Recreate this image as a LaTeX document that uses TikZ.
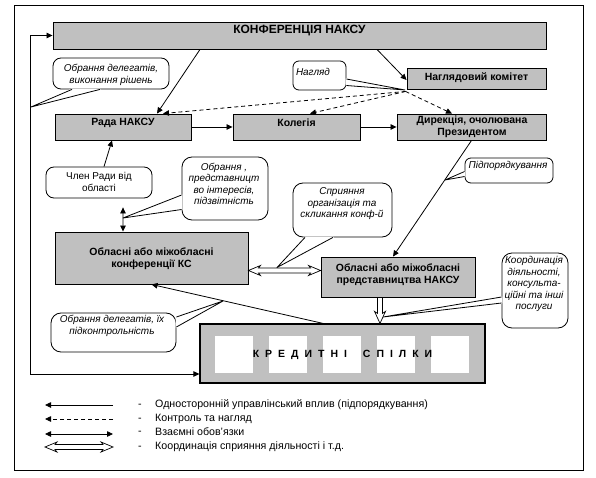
\documentclass[tikz,border=0pt]{standalone}
\usepackage{fontspec}
\setmainfont{Liberation Sans}
\usetikzlibrary{arrows.meta,calc}
\definecolor{boxgray}{RGB}{192,192,192}
\newcommand\calloutptr[3]{%
  \filldraw[white, line width=1.6bp, line join=round] #1 -- #3 -- #2 -- cycle;
  \draw[line width=0.8bp, line join=round] #1 -- #3 -- #2;}
\newcommand\kgap{\hspace{6bp}}
\tikzset{
  box/.style={draw, fill=boxgray, line width=0.9bp, inner sep=0pt},
  callout/.style={draw, fill=white, line width=0.8bp, rounded corners=8bp, inner sep=0pt},
  lbl/.style={font=\fontsize{10.5}{12}\selectfont\bfseries, align=center, inner sep=0pt},
  ctext/.style={font=\fontsize{10}{11.5}\selectfont\itshape, align=center, inner sep=0pt},
  rtext/.style={font=\fontsize{10}{12}\selectfont, align=center, inner sep=0pt},
  legt/.style={font=\fontsize{10.7}{12}\selectfont, inner sep=0pt},
  arr/.style={line width=0.8bp, -{Triangle[length=6bp,width=5.5bp]}},
  arrboth/.style={line width=0.8bp, {Triangle[length=6bp,width=5.5bp]}-{Triangle[length=6bp,width=5.5bp]}},
  darr/.style={arr, dash pattern=on 4bp off 3bp},
  hdbl/.style={fill=white, line width=0.7bp, to path={let \p1=(\tikztostart), \p2=(\tikztotarget) in
    (\x1,\y1) -- (\x1+12bp,\y1+5bp) -- (\x1+10bp,\y1+2.5bp) -- (\x2-10bp,\y1+2.5bp) -- (\x2-12bp,\y1+5bp) -- (\x2,\y1)
    -- (\x2-12bp,\y1-5bp) -- (\x2-10bp,\y1-2.5bp) -- (\x1+10bp,\y1-2.5bp) -- (\x1+12bp,\y1-5bp) -- cycle}},
  hdown/.style={fill=white, line width=0.7bp, to path={let \p1=(\tikztostart), \p2=(\tikztotarget) in
    (\x1-2.5bp,\y1) -- (\x1-2.5bp,\y2+10bp) -- (\x1-5.5bp,\y2+12bp) -- (\x1,\y2) -- (\x1+5.5bp,\y2+12bp)
    -- (\x1+2.5bp,\y2+10bp) -- (\x1+2.5bp,\y1) -- cycle}},
}
\begin{document}
\begin{tikzpicture}[x=1bp,y=-1bp]
\useasboundingbox (0,0) rectangle (596,478);
\draw[line width=1bp] (14,6) rectangle (583,470);

% boxes
\node[box, minimum width=493bp, minimum height=27bp] (konf) at (299.5,35.5) {};
\node[box, minimum width=139bp, minimum height=21bp] (nagl) at (476.5,78.5) {};
\node[box, minimum width=136bp, minimum height=26bp] (rada) at (123,127) {};
\node[box, minimum width=127bp, minimum height=26bp] (koleg) at (296.5,127) {};
\node[box, minimum width=149bp, minimum height=26bp] (dyr) at (471.5,127) {};
\node[box, minimum width=193bp, minimum height=52bp] (ks) at (151.5,258) {};
\node[box, minimum width=154bp, minimum height=40bp] (pred) at (398,277) {};
\node[box, minimum width=285bp, minimum height=59bp, line width=1.2bp] (kred) at (342.5,353.5) {};
\foreach \x in {215,269,323,377,431} \fill[white] (\x,336) rectangle ({\x+38},373);

\node[lbl, font=\fontsize{12}{14}\selectfont\bfseries] (konft) at (299.5,31) {КОНФЕРЕНЦІЯ НАКСУ};
\node[lbl] (naglt) at (476.5,77.5) {Наглядовий комітет};
\node[lbl] (radat) at (123,122.5) {Рада НАКСУ};
\node[lbl] (kolegt) at (296.5,122.5) {Колегія};
\node[lbl] (dyrt) at (472,127) {Дирекція, очолювана\\Президентом};
\node[lbl] (kst) at (151.5,258.5) {Обласні або міжобласні\\конференції КС};
\node[lbl] (predt) at (398,274.5) {Обласні або міжобласні\\представництва НАКСУ};
\node[lbl, font=\fontsize{10.5}{12}\selectfont\bfseries] (kredt) at (342.5,355)
  {К\kgap Р\kgap Е\kgap Д\kgap И\kgap Т\kgap Н\kgap І\hspace{16bp}С\kgap П\kgap І\kgap Л\kgap К\kgap И};

% callouts
\node[callout, minimum width=116bp, minimum height=31bp] (c1) at (111,73.5) {};
\node[callout, rounded corners=6bp, minimum width=53bp, minimum height=29bp] (c2) at (319.5,75.5) {};
\node[callout, rounded corners=6bp, minimum width=88bp, minimum height=25bp] (c3) at (509,170.5) {};
\node[callout, minimum width=106bp, minimum height=31bp] (c4) at (99,182.5) {};
\node[callout, rounded corners=10bp, minimum width=86bp, minimum height=63bp] (c5) at (225,188.5) {};
\node[callout, rounded corners=10bp, minimum width=99bp, minimum height=54bp] (c6) at (342.5,210) {};
\node[callout, rounded corners=10bp, minimum width=66bp, minimum height=75bp] (c7) at (535,290.5) {};
\node[callout, rounded corners=10bp, minimum width=125bp, minimum height=39bp] (c8) at (113.5,332.5) {};

\coordinate (t1) at (31,107);
\coordinate (t2) at (405,90);
\coordinate (t3) at (445,180);
\coordinate (t5) at (123,218);
\coordinate (t6) at (277,267.5);
\coordinate (t7) at (383,317);
\coordinate (t8) at (223,301);

\calloutptr{([xshift=-39bp]c1.south)}{([xshift=-11bp]c1.south)}{(t1)}
\calloutptr{([yshift=-3.5bp]c2.east)}{([yshift=-10bp]c2.east)}{(t2)}
\calloutptr{([yshift=-1bp]c3.west)}{([yshift=-6bp]c3.west)}{(t3)}
\calloutptr{([yshift=-6.5bp]c5.west)}{([yshift=-21bp]c5.west)}{(t5)}
\calloutptr{([xshift=-37.5bp]c6.south)}{([xshift=-9.5bp]c6.south)}{(t6)}
\calloutptr{([yshift=-6.5bp]c7.west)}{([yshift=-12.5bp]c7.west)}{(t7)}
\calloutptr{([yshift=15.5bp]c8.east)}{([yshift=5.5bp]c8.east)}{(t8)}

\node[ctext] (c1t) at (111,75) {Обрання делегатів,\\виконання рішень};
\node[ctext] (c2t) at (313,72) {Нагляд};
\node[ctext] (c3t) at (508,166) {Підпорядкування};
\node[rtext] (c4t) at (99,182) {Член Ради від\\області};
\node[ctext] (c5t) at (224,184) {Обрання ,\\представницт\\во інтересів,\\підзвітність};
\node[ctext] (c6t) at (342,204) {Сприяння\\організація та\\скликання конф-й};
\node[ctext] (c7t) at (534,284) {Координація\\діяльності,\\консульта-\\ційні та інші\\послуги};
\node[ctext] (c8t) at (112,326) {Обрання делегатів, їх\\підконтрольність};

% connectors
\draw[arrboth] (konf.west) -- ++(-22bp,0) |- ([yshift=-20.5bp]kred.west);
\draw[arr] ([xshift=-99.5bp]konf.south) -- ([xshift=34bp]rada.north);
\draw[arr] ([xshift=77.5bp]konf.south) -- ([yshift=-1.5bp]nagl.west);
\coordinate (nsw) at ([xshift=-1bp,yshift=-2bp]nagl.south west);
\draw[darr] (nsw) -- ([xshift=40bp]rada.north);
\draw[darr] (nsw) -- ([xshift=13.5bp]koleg.north);
\draw[darr] (nsw) -- ([xshift=-19.5bp]dyr.north);
\draw[arr] (rada.east) -- (koleg.west);
\draw[arr] (koleg.east) -- (dyr.west);
\draw[arr] (dyr.south) -- ([xshift=-5bp]pred.north);
\draw[arr] ([xshift=5bp]c4.north) -- ([xshift=-11bp]rada.south);
\draw[arrboth] ([xshift=24bp,yshift=-9bp]c4.south) -- ([xshift=-28.5bp]ks.north);
\draw[hdbl] ([yshift=-12.5bp]ks.east) to (pred.west);
\draw[hdown] ([xshift=-18bp]pred.south) to ([xshift=37.5bp]kred.north);
\draw[arr] ([xshift=-19.5bp]kred.north) -- (ks.south);

% legend
\coordinate (l1a) at (45,405); \coordinate (l1b) at (113,405);
\coordinate (l2a) at (45,419); \coordinate (l2b) at (113,419);
\coordinate (l3a) at (45,434); \coordinate (l3b) at (113,434);
\coordinate (l4a) at (45,447); \coordinate (l4b) at (113,447);
\draw[arr] (l1b) -- (l1a);
\draw[darr] (l2b) -- (l2a);
\draw[arrboth] (l3a) -- (l3b);
\draw[hdbl] (l4a) to (l4b);
\node[legt] (m1) at (140,406) {-};
\node[legt] (m2) at (140,420) {-};
\node[legt] (m3) at (140,433) {-};
\node[legt] (m4) at (140,448) {-};
\node[legt, anchor=west] (g1) at (155,405) {Односторонній управлінський вплив (підпорядкування)};
\node[legt, anchor=west] (g2) at (155,419) {Контроль та нагляд};
\node[legt, anchor=west] (g3) at (155,432) {Взаємні обов{\char"27}язки};
\node[legt, anchor=west] (g4) at (155,447) {Координація сприяння діяльності і т.д.};
\end{tikzpicture}
\end{document}
